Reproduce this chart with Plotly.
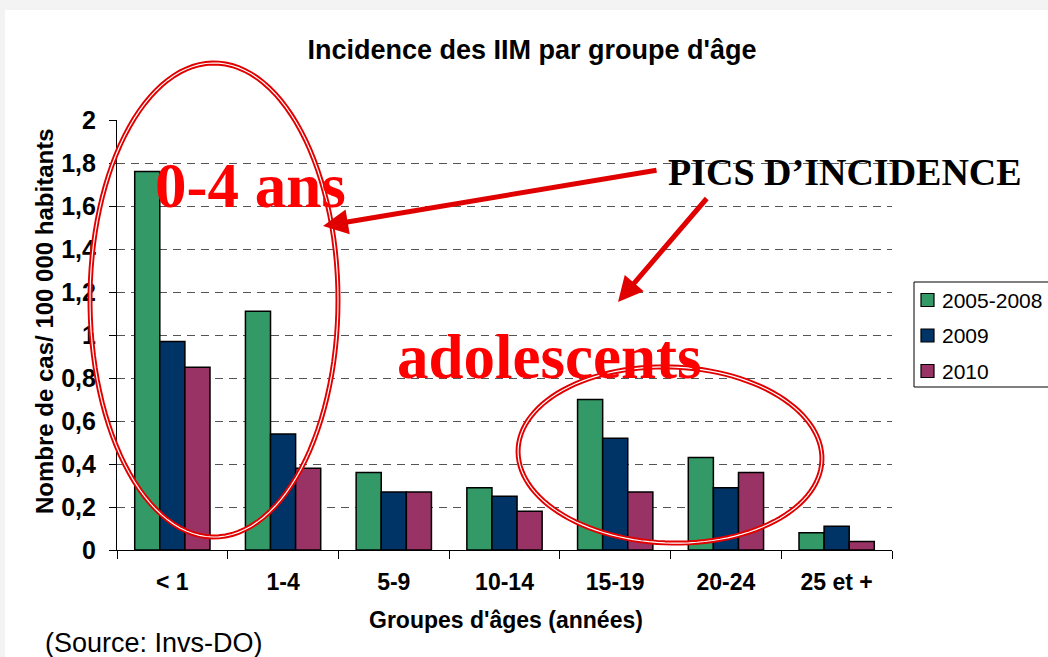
import numpy as np
import plotly.graph_objects as go

# ---- data ----
categories = ["< 1", "1-4", "5-9", "10-14", "15-19", "20-24", "25 et +"]
series_names = ["2005-2008", "2009", "2010"]
v_2005_2008 = [1.76, 1.11, 0.36, 0.29, 0.70, 0.43, 0.08]
v_2009 = [0.97, 0.54, 0.27, 0.25, 0.52, 0.29, 0.11]
v_2010 = [0.85, 0.38, 0.27, 0.18, 0.27, 0.36, 0.04]
colors = ["#339966", "#003366", "#993366"]
y_tickvals = [0, 0.2, 0.4, 0.6, 0.8, 1.0, 1.2, 1.4, 1.6, 1.8, 2.0]
y_ticktext = ["0", "0,2", "0,4", "0,6", "0,8", "1", "1,2", "1,4", "1,6", "1,8", "2"]

W, H = 1048, 657
L, R, T, B = 117, 892, 120, 550  # plot area in pixels


def px(x):
    return (x - L) / (R - L)


def py(y):
    return (B - y) / (B - T)


fig = go.Figure()
for name, vals, col in zip(series_names, [v_2005_2008, v_2009, v_2010], colors):
    fig.add_trace(go.Bar(x=categories, y=vals, name=name, marker_color=col,
                         marker_line_color="black", marker_line_width=1.5,
                         showlegend=False))

SANS = "Liberation Sans, Arial, sans-serif"
SERIF = "Liberation Serif, Times New Roman, serif"

shapes = []
annotations = []

# slide background
shapes.append(dict(type="rect", xref="paper", yref="paper", layer="below",
                   x0=px(5), x1=px(W + 5), y0=py(10), y1=py(H + 5),
                   fillcolor="white", line_width=0))


def ellipse_path(cx, cy, a, b, rot_deg=0.0, n=120):
    t = np.linspace(0, 2 * np.pi, n)
    r = np.deg2rad(rot_deg)
    xs = cx + a * np.cos(t) * np.cos(r) - b * np.sin(t) * np.sin(r)
    ys = cy + a * np.cos(t) * np.sin(r) + b * np.sin(t) * np.cos(r)
    pts = [f"{px(x):.5f},{py(y):.5f}" for x, y in zip(xs, ys)]
    return "M" + " L".join(pts) + " Z"


for (cx, cy, a, b, rot) in [(214, 300, 124, 237, 0), (670, 455, 152, 88, 2)]:
    p = ellipse_path(cx, cy, a, b, rot)
    shapes.append(dict(type="path", xref="paper", yref="paper", path=p,
                       line=dict(color="#e00000", width=5)))
    shapes.append(dict(type="path", xref="paper", yref="paper", path=p,
                       line=dict(color="white", width=1.2)))

# arrows
for (x0, y0, x1, y1) in [(658, 170, 323, 226), (708, 197, 618, 302)]:
    annotations.append(dict(xref="paper", yref="paper", x=px(x1), y=py(y1),
                            ax=x0 - x1, ay=y0 - y1, axref="pixel", ayref="pixel",
                            text="", showarrow=True, arrowhead=2, arrowsize=1.0,
                            arrowwidth=5, arrowcolor="#e00000"))
    fx = x1 + (x0 - x1) * 0.09
    fy = y1 + (y0 - y1) * 0.09
    shapes.append(dict(type="line", xref="paper", yref="paper",
                       x0=px(x0), y0=py(y0), x1=px(fx), y1=py(fy),
                       line=dict(color="white", width=1.2)))

# big annotations
annotations.append(dict(xref="paper", yref="paper", x=px(153), y=py(186),
                        xanchor="left", yanchor="middle", showarrow=False,
                        text="<b>0-4 ans</b>",
                        font=dict(family=SERIF, size=63, color="#ff0000")))
annotations.append(dict(xref="paper", yref="paper", x=px(395), y=py(357),
                        xanchor="left", yanchor="middle", showarrow=False,
                        text="<b>adolescents</b>",
                        font=dict(family=SERIF, size=63, color="#ff0000")))
annotations.append(dict(xref="paper", yref="paper", x=px(666), y=py(172),
                        xanchor="left", yanchor="middle", showarrow=False,
                        text="<b>PICS D\u2019INCIDENCE</b>",
                        font=dict(family=SERIF, size=38, color="black")))

# manual legend
shapes.append(dict(type="rect", xref="paper", yref="paper",
                   x0=px(914), x1=px(1052), y0=py(282), y1=py(387),
                   line=dict(color="black", width=1), fillcolor="white"))
for i, (name, col) in enumerate(zip(series_names, colors)):
    yc = 300 + i * 35.5
    shapes.append(dict(type="rect", xref="paper", yref="paper",
                       x0=px(921), x1=px(934), y0=py(yc - 6.5), y1=py(yc + 6.5),
                       fillcolor=col, line=dict(color="black", width=1.2)))
    annotations.append(dict(xref="paper", yref="paper", x=px(940), y=py(yc),
                            xanchor="left", yanchor="middle", showarrow=False,
                            text=name, font=dict(family=SANS, size=21, color="black")))

# axis titles & source
annotations.append(dict(xref="paper", yref="paper", x=px(506), y=py(620),
                        xanchor="center", yanchor="middle", showarrow=False,
                        text="<b>Groupes d'âges (années)</b>",
                        font=dict(family=SANS, size=23, color="black")))
annotations.append(dict(xref="paper", yref="paper", x=px(44), y=py(321),
                        xanchor="center", yanchor="middle", showarrow=False,
                        textangle=-90,
                        text="<b>Nombre de cas/ 100 000 habitants</b>",
                        font=dict(family=SANS, size=24, color="black")))
annotations.append(dict(xref="paper", yref="paper", x=px(43), y=py(643),
                        xanchor="left", yanchor="middle", showarrow=False,
                        text="(Source: Invs-DO)",
                        font=dict(family=SANS, size=27, color="black")))

fig.update_layout(
    width=W, height=H,
    margin=dict(l=L, r=W - R, t=T, b=H - B, pad=0),
    paper_bgcolor="#f3f3f3", plot_bgcolor="rgba(0,0,0,0)",
    barmode="group", bargap=0.32, bargroupgap=0.0,
    title=dict(text="<b>Incidence des IIM par groupe d'âge</b>",
               x=px(532), xref="paper", xanchor="center",
               y=1 - 50 / H, yref="container", yanchor="middle",
               font=dict(family=SANS, size=27, color="black")),
    shapes=shapes, annotations=annotations,
    showlegend=False,
)
fig.update_xaxes(type="category", range=[-0.5, 6.5], showline=True,
                 linecolor="black", linewidth=1.2, ticks="outside",
                 tickson="boundaries", ticklen=8, tickcolor="black",
                 showgrid=False, ticklabelstandoff=11,
                 tickfont=dict(family=SANS, size=23, color="black"),
                 tickprefix="<b>", ticksuffix="</b>")
fig.update_yaxes(range=[0, 2], tickvals=y_tickvals, ticktext=["<b>%s</b>" % t for t in y_ticktext],
                 showline=True, linecolor="black", linewidth=1.2,
                 ticks="outside", ticklen=7, tickcolor="black",
                 showgrid=True, gridcolor="#555555", gridwidth=1,
                 griddash="8px,6px", zeroline=False, ticklabelstandoff=8,
                 tickfont=dict(family=SANS, size=25, color="black"))

fig.write_html("out.html", config={"displayModeBar": False},
               post_script="document.body.style.margin='0';document.body.style.overflow='hidden';")
